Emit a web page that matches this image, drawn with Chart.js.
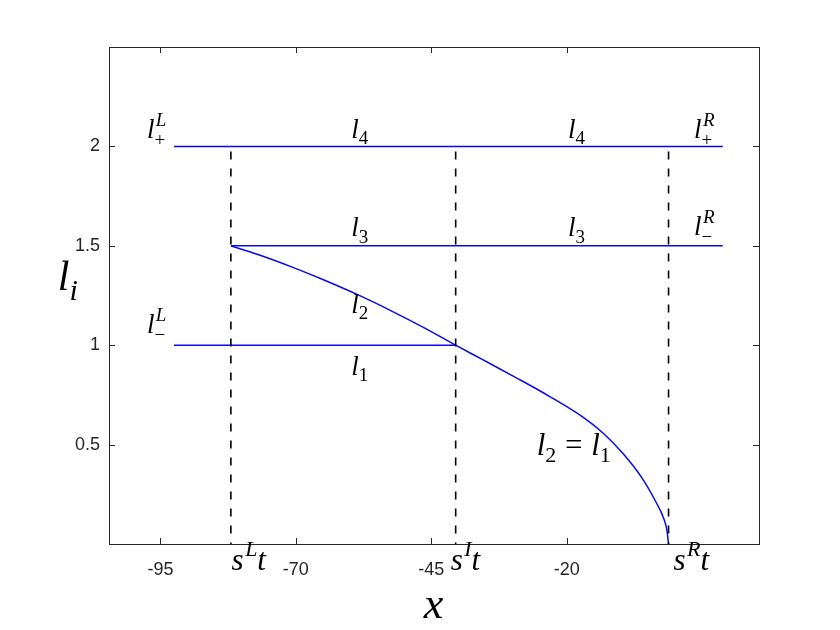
<!DOCTYPE html>
<html>
<head>
<meta charset="utf-8">
<script src="https://cdn.jsdelivr.net/npm/chart.js@4.4.1/dist/chart.umd.min.js"></script>
<style>
  body { margin: 0; background: #fff; }
  #wrap { width: 840px; height: 630px; }
</style>
</head>
<body>
<div id="wrap"><canvas id="lineChart" width="840" height="630"></canvas></div>
<script>
// axis ticks
var xTicks = [-95, -70, -45, -20];
var yTicks = [0.5, 1, 1.5, 2];

// horizontal states
var l4X = [-92.5, 8.8], l4Y = [2, 2];
var l3X = [-82, 8.8],   l3Y = [1.5, 1.5];
var l1X = [-92.5, -40.5], l1Y = [1, 1];

// rarefaction curve l2
var curveX = [-82, -77, -70.8, -64.7, -58.5, -52.4, -46.2, -40.5, -35.5, -29.3, -23.2, -17, -13.3, -9.65, -6, -3.5, -2, -1.5, -1.2];
var curveY = [1.5, 1.456, 1.394, 1.327, 1.253, 1.173, 1.086, 1.0, 0.927, 0.836, 0.743, 0.638, 0.558, 0.456, 0.328, 0.21, 0.122, 0.07, 0];

// dashed wave positions s^L t, s^I t, s^R t
var waveX = [-82, -40.5, -1.2];
var waveY = [2, 0];

// math annotations: text, x, y (data units), font size
var notes = [
  ['l_+^L', -95.7, 2.044, 27],
  ['l_4', -58.2, 2.044, 27],
  ['l_4', -18.2, 2.044, 27],
  ['l_+^R', 5.4, 2.044, 27],
  ['l_3', -58.2, 1.547, 27],
  ['l_3', -18.2, 1.547, 27],
  ['l_-^R', 5.4, 1.555, 27],
  ['l_2', -58.2, 1.163, 27],
  ['l_-^L', -95.7, 1.063, 27],
  ['l_1', -58.2, 0.852, 27],
  ['l_2 = l_1', -18.7, 0.449, 31],
  ['s^Lt', -78.7, -0.129, 31],
  ['s^It', -38.7, -0.129, 31],
  ['s^Rt', 3.0, -0.129, 31],
  ['x', -44.6, -0.371, 44],
  ['l_i', -112.1, 1.279, 42]
];

function pts(xs, ys) {
  return xs.map(function (x, i) { return { x: x, y: ys[i] }; });
}

var datasets = [];
waveX.forEach(function (wx) {
  datasets.push({
    data: pts([wx, wx], waveY),
    borderColor: '#000',
    borderWidth: 1.6,
    borderDash: [8, 9],
    borderDashOffset: 12,
    showLine: true,
    pointRadius: 0
  });
});
[[l4X, l4Y], [l3X, l3Y], [l1X, l1Y], [curveX, curveY]].forEach(function (s) {
  datasets.push({
    data: pts(s[0], s[1]),
    borderColor: '#0a0ae6',
    borderWidth: 1.5,
    showLine: true,
    pointRadius: 0,
    cubicInterpolationMode: 'monotone'
  });
});

var SERIF = '"Liberation Serif", "Times New Roman", serif';

function fontOf(size, italic) {
  return (italic ? 'italic ' : '') + size + 'px ' + SERIF;
}

function glyph(c) {
  if (c === '-') return { t: '\u2212', it: false };
  return { t: c, it: /[a-zA-Z]/.test(c) };
}

// tiny parser for things like l_+^L, s^Lt, l_2 = l_1
function drawMath(ctx, str, cx, by, size) {
  var ops = [], i = 0, w = 0, small = Math.round(size * 0.72);
  while (i < str.length) {
    var c = str[i];
    if (c === ' ') { w += size * 0.28; i++; continue; }
    var g = glyph(c);
    ctx.font = fontOf(size, g.it);
    ops.push({ t: g.t, f: ctx.font, x: w, dy: 0 });
    w += ctx.measureText(g.t).width;
    i++;
    var sub = null, sup = null;
    while (str[i] === '_' || str[i] === '^') {
      if (str[i] === '_') sub = glyph(str[i + 1]); else sup = glyph(str[i + 1]);
      i += 2;
    }
    var sw = 0;
    if (sup) {
      ctx.font = fontOf(small, sup.it);
      ops.push({ t: sup.t, f: ctx.font, x: w + size * 0.05, dy: -size * 0.45 });
      sw = Math.max(sw, ctx.measureText(sup.t).width + size * 0.05);
    }
    if (sub) {
      ctx.font = fontOf(small, sub.it);
      ops.push({ t: sub.t, f: ctx.font, x: w, dy: size * (sup ? 0.3 : 0.24) });
      sw = Math.max(sw, ctx.measureText(sub.t).width);
    }
    w += sw;
  }
  var x0 = cx - w / 2;
  ctx.textBaseline = 'alphabetic';
  ctx.textAlign = 'left';
  ctx.fillStyle = '#000';
  ops.forEach(function (o) {
    ctx.font = o.f;
    ctx.fillText(o.t, x0 + o.x, by + o.dy);
  });
}

var boxPlugin = {
  id: 'matlabBox',
  afterDatasetsDraw: function (chart) {
    var ctx = chart.ctx, a = chart.chartArea;
    var sx = chart.scales.x, sy = chart.scales.y;
    ctx.save();
    ctx.strokeStyle = '#262626';
    ctx.lineWidth = 1;
    ctx.strokeRect(Math.round(a.left) + 0.5, Math.round(a.top) + 0.5,
      Math.round(a.right - a.left), Math.round(a.bottom - a.top));
    ctx.beginPath();
    xTicks.forEach(function (v) {
      var px = Math.round(sx.getPixelForValue(v)) + 0.5;
      ctx.moveTo(px, a.bottom); ctx.lineTo(px, a.bottom - 6);
      ctx.moveTo(px, a.top); ctx.lineTo(px, a.top + 6);
    });
    yTicks.forEach(function (v) {
      var py = Math.round(sy.getPixelForValue(v)) + 0.5;
      ctx.moveTo(a.left, py); ctx.lineTo(a.left + 6, py);
      ctx.moveTo(a.right, py); ctx.lineTo(a.right - 6, py);
    });
    ctx.stroke();
    notes.forEach(function (n) {
      drawMath(ctx, n[0], sx.getPixelForValue(n[1]), sy.getPixelForValue(n[2]), n[3]);
    });
    ctx.restore();
  }
};

var tickFont = { family: '"Liberation Sans", Arial, sans-serif', size: 18 };

var myChart = new Chart(document.getElementById('lineChart'), {
  type: 'scatter',
  data: { datasets: datasets },
  options: {
    responsive: false,
    animation: false,
    layout: { padding: { left: 0, right: 81, top: 47, bottom: 0 } },
    plugins: { legend: { display: false }, tooltip: { enabled: false } },
    scales: {
      x: {
        type: 'linear', min: -104.5, max: 15.5,
        grid: { display: false, drawTicks: false },
        border: { display: false },
        afterBuildTicks: function (s) { s.ticks = xTicks.map(function (v) { return { value: v }; }); },
        afterFit: function (s) { s.height = 86; },
        ticks: { font: tickFont, color: '#262626', padding: 15, maxRotation: 0,
          callback: function (v) { return String(v); } }
      },
      y: {
        type: 'linear', min: 0, max: 2.5,
        grid: { display: false, drawTicks: false },
        border: { display: false },
        afterBuildTicks: function (s) { s.ticks = yTicks.map(function (v) { return { value: v }; }); },
        afterFit: function (s) { s.width = 109; },
        ticks: { font: tickFont, color: '#262626', padding: 9,
          callback: function (v) { return String(v); } }
      }
    }
  },
  plugins: [boxPlugin]
});
</script>
</body>
</html>
